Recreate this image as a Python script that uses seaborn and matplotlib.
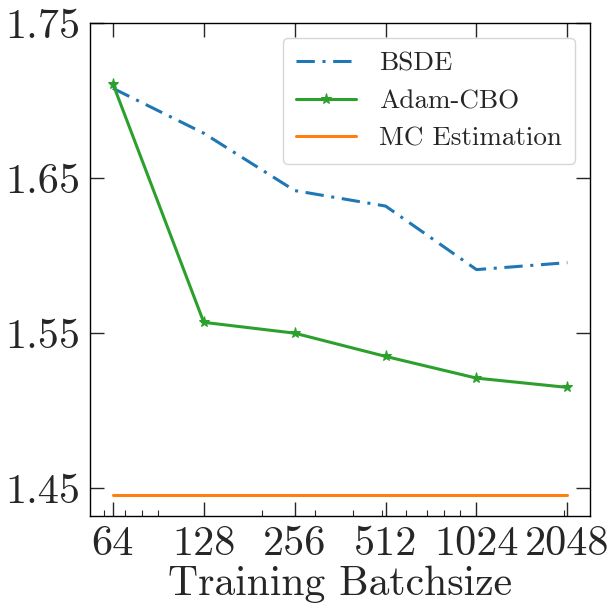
import matplotlib
matplotlib.use("Agg")
import matplotlib.pyplot as plt
import matplotlib.ticker as mticker
import numpy as np
import pandas as pd
import seaborn as sns

batch = [64, 128, 256, 512, 1024, 2048]
bsde = [1.708, 1.679, 1.642, 1.632, 1.591, 1.5955]
adam_cbo = [1.711, 1.557, 1.550, 1.535, 1.521, 1.515]
mc_est = [1.4455] * 6
yticks = [1.45, 1.55, 1.65, 1.75]

sns.set_style("ticks")
plt.rcParams["font.family"] = ["cmr10", "DejaVu Serif"]
plt.rcParams["axes.formatter.use_mathtext"] = True

fig, ax = plt.subplots(figsize=(6.09, 6.10), dpi=100)

sns.lineplot(x=batch, y=bsde, ax=ax, color="#1f77b4", lw=2.2,
             linestyle=(0, (6, 2.5, 1, 2.5)), label="BSDE")
sns.lineplot(x=batch, y=adam_cbo, ax=ax, color="#2ca02c", lw=2.2,
             marker="*", markersize=8, markeredgecolor="#2ca02c",
             label="Adam-CBO")
sns.lineplot(x=batch, y=mc_est, ax=ax, color="#ff7f0e", lw=2.2,
             label="MC Estimation")

ax.set_xscale("log")
ax.set_xticks(batch)
ax.xaxis.set_major_formatter(mticker.FixedFormatter([str(b) for b in batch]))
ax.set_ylim(1.432, 1.75)
ax.set_yticks(yticks)
ax.set_yticklabels([f"{v:.2f}" for v in yticks])

ax.tick_params(which="major", direction="in", length=10, width=1,
               top=True, right=True, labelsize=30.5, pad=7)
ax.tick_params(which="minor", direction="in", length=4, width=0.8,
               top=False, right=False, left=False)
ax.yaxis.set_minor_locator(mticker.NullLocator())
ax.xaxis.set_minor_formatter(mticker.NullFormatter())

for sp in ax.spines.values():
    sp.set_color("black")
    sp.set_linewidth(1.0)

ax.set_xlabel("Training Batchsize", fontsize=30, labelpad=2)
ax.set_ylabel("")

leg = ax.legend(loc="upper right", fontsize=19.5, handlelength=2.2,
                handletextpad=0.85, borderpad=0.5, labelspacing=0.5,
                fancybox=True, borderaxespad=0.55)
leg.get_frame().set_edgecolor("#cccccc")

fig.subplots_adjust(left=0.148, right=0.969, top=0.962, bottom=0.154)
fig.savefig("out.png", dpi=100)
